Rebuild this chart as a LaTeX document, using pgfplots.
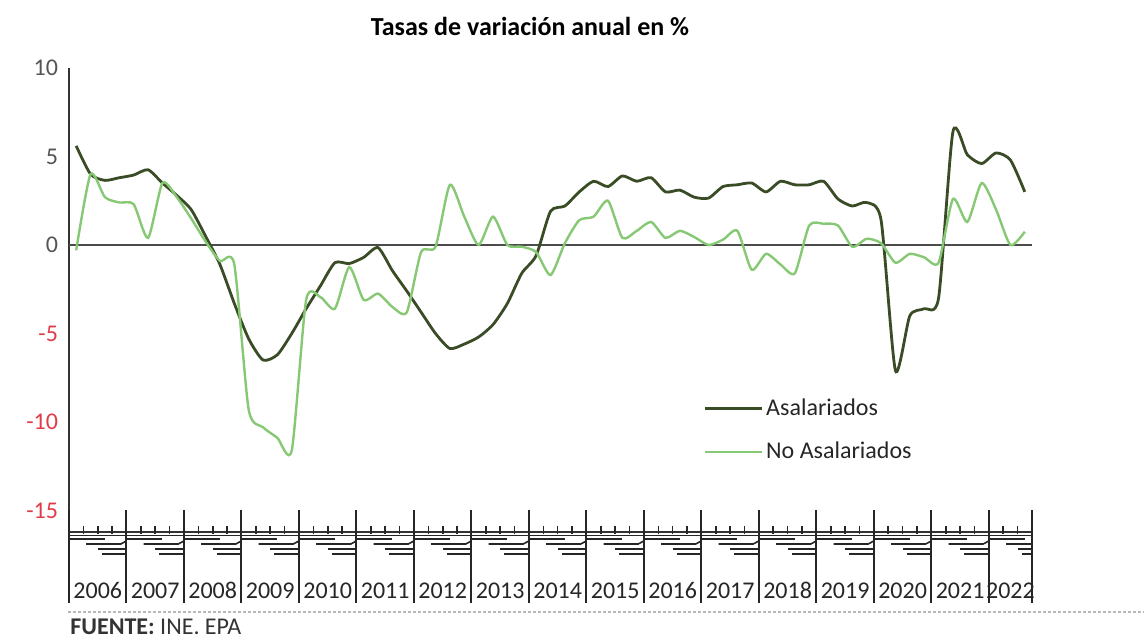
\documentclass[border=0pt]{standalone}
\usepackage{fontspec}
\setmainfont{Carlito}
\usepackage{pgfplots}
\usepackage{pgfplotstable}
\pgfplotsset{compat=1.18}
\definecolor{asal}{RGB}{58,76,38}
\definecolor{noasal}{RGB}{134,200,115}
\definecolor{tickred}{RGB}{222,60,72}
\definecolor{tickgray}{RGB}{85,85,85}

\pgfplotstableread{
x a n
0.5 5.6 -0.3
1.5 4.0 4.0
2.5 3.65 2.7
3.5 3.8 2.4
4.5 3.95 2.3
5.5 4.25 0.4
6.5 3.5 3.5
7.5 2.8 2.7
8.5 2.0 1.5
9.5 0.5 0.2
10.5 -1.1 -0.9
11.5 -3.3 -1.1
12.5 -5.3 -9.3
13.5 -6.5 -10.3
14.5 -6.2 -10.9
15.5 -5.0 -11.6
16.5 -3.6 -3.1
17.5 -2.3 -2.95
18.5 -1.0 -3.6
19.5 -1.05 -1.25
20.5 -0.7 -3.1
21.5 -0.15 -2.75
22.5 -1.45 -3.5
23.5 -2.6 -3.8
24.5 -3.8 -0.4
25.5 -5.0 -0.1
26.5 -5.85 3.4
27.5 -5.6 1.6
28.5 -5.2 0.0
29.5 -4.5 1.6
30.5 -3.3 0.0
31.5 -1.6 -0.1
32.5 -0.6 -0.4
33.5 1.9 -1.7
34.5 2.2 0.1
35.5 3.0 1.4
36.5 3.6 1.6
37.5 3.3 2.5
38.5 3.9 0.4
39.5 3.6 0.8
40.5 3.8 1.3
41.5 3.0 0.4
42.5 3.1 0.8
43.5 2.7 0.45
44.5 2.65 0.0
45.5 3.3 0.3
46.5 3.4 0.8
47.5 3.5 -1.4
48.5 3.0 -0.5
49.5 3.6 -1.1
50.5 3.4 -1.6
51.5 3.4 1.1
52.5 3.6 1.2
53.5 2.6 1.1
54.5 2.2 -0.1
55.5 2.4 0.35
56.5 1.4 0.1
57.5 -7.1 -1.0
58.5 -4.0 -0.5
59.5 -3.6 -0.7
60.5 -3.0 -1.0
61.5 6.4 2.6
62.5 5.1 1.3
63.5 4.6 3.5
64.5 5.2 2.0
65.5 4.8 0.0
66.5 3.0 0.75
}\datatable

\begin{document}
\begin{tikzpicture}[font=\fontsize{12}{14}\selectfont]
\useasboundingbox (0,0) rectangle (572pt,320pt);
\begin{axis}[
  at={(34.5pt,54.15pt)}, anchor=south west, scale only axis,
  width=481.5pt, height=231.85pt,
  xmin=0, xmax=67, ymin=-16.2, ymax=10,
  axis x line=bottom, axis y line=left,
  axis line style={-, line width=1.1pt, color=black!80},
  ytick={-15,-10,-5,0,5,10},
  yticklabels={{\color{tickred}-15},{\color{tickred}-10},{\color{tickred}-5},0,5,10},
  yticklabel style={color=tickgray, anchor=east, xshift=-2pt},
  major tick length=0pt,
  xtick={2,6,10,14,18,22,26,30,34,38,42,46,50,54,58,62,65.5},
  xticklabels={2006,2007,2008,2009,2010,2011,2012,2013,2014,2015,2016,2017,2018,2019,2020,2021,2022},
  xticklabel style={anchor=center, yshift=-29.5pt, color=black!85},
  clip=false,
  legend style={at={(0.6584,0.2193)}, anchor=west, draw=none, fill=none,
    inner sep=0pt, row sep=9pt, nodes={inner sep=1.5pt, anchor=west},
    font=\fontsize{12}{14}\selectfont, text=black!85},
  legend cell align=left,
  legend image code/.code={\draw[#1] (0pt,0pt) -- (28.5pt,0pt);},
]
\draw[black!70, line width=1.1pt] (axis cs:0,0) -- (axis cs:67,0);
\addplot[asal, line width=1.4pt, smooth, tension=0.4] table[x=x,y=a]{\datatable};
\addlegendentry{Asalariados}
\addplot[noasal, line width=1.2pt, smooth, tension=0.4] table[x=x,y=n]{\datatable};
\addlegendentry{No Asalariados}
\end{axis}
% category axis decorations
\foreach \k in {0,...,16} {
  \pgfmathsetmacro{\xa}{34.5+28.7463*\k}
  \pgfmathsetmacro{\xe}{min(\xa+28.7463,516)}
  \draw[black!85, line width=1pt] (\xa pt,65pt) -- (\xa pt,18.5pt);
  \draw[black!85, line width=0.8pt] (\xa pt,52.25pt) -- (\xe pt,52.25pt);
  \draw[black!85, line width=0.8pt] (\xa pt,50.5pt) -- ({min(\xa+18,\xe)*1pt},50.5pt);
  \draw[black!85, line width=0.8pt] ({(\xa+8.6)*1pt},48pt) -- ({min(\xa+25.9,\xe)*1pt},48pt) -- ({min(\xa+28.7,\xe)*1pt},49.5pt);
  \draw[black!85, line width=0.8pt] ({(\xa+14.4)*1pt},45.5pt) -- ({\xe*1pt},45.5pt);
  \draw[black!85, line width=0.8pt] ({(\xa+16.5)*1pt},43pt) -- ({\xe*1pt},43pt);
  \foreach \q in {1,2,3} {
    \pgfmathsetmacro{\xq}{\xa+7.1866*\q}
    \pgfmathparse{\xq<515?1:0}
    \ifnum\pgfmathresult=1
      \draw[black!85, line width=0.8pt] (\xq pt,53pt) -- (\xq pt,57pt);
    \fi
  }
}
\draw[black!85, line width=1pt] (516pt,65pt) -- (516pt,18.5pt);
\node[font=\fontsize{13}{15}\selectfont\bfseries] at (265pt,306.5pt) {Tasas de variación anual en \%};
\draw[gray!55, dash pattern=on 1.5pt off 1pt, line width=0.6pt] (34pt,14pt) -- (572pt,14pt);
\node[anchor=west, inner sep=0pt, text=black!80] at (35pt,6.5pt) {\textbf{FUENTE:} INE. EPA};
\end{tikzpicture}
\end{document}
